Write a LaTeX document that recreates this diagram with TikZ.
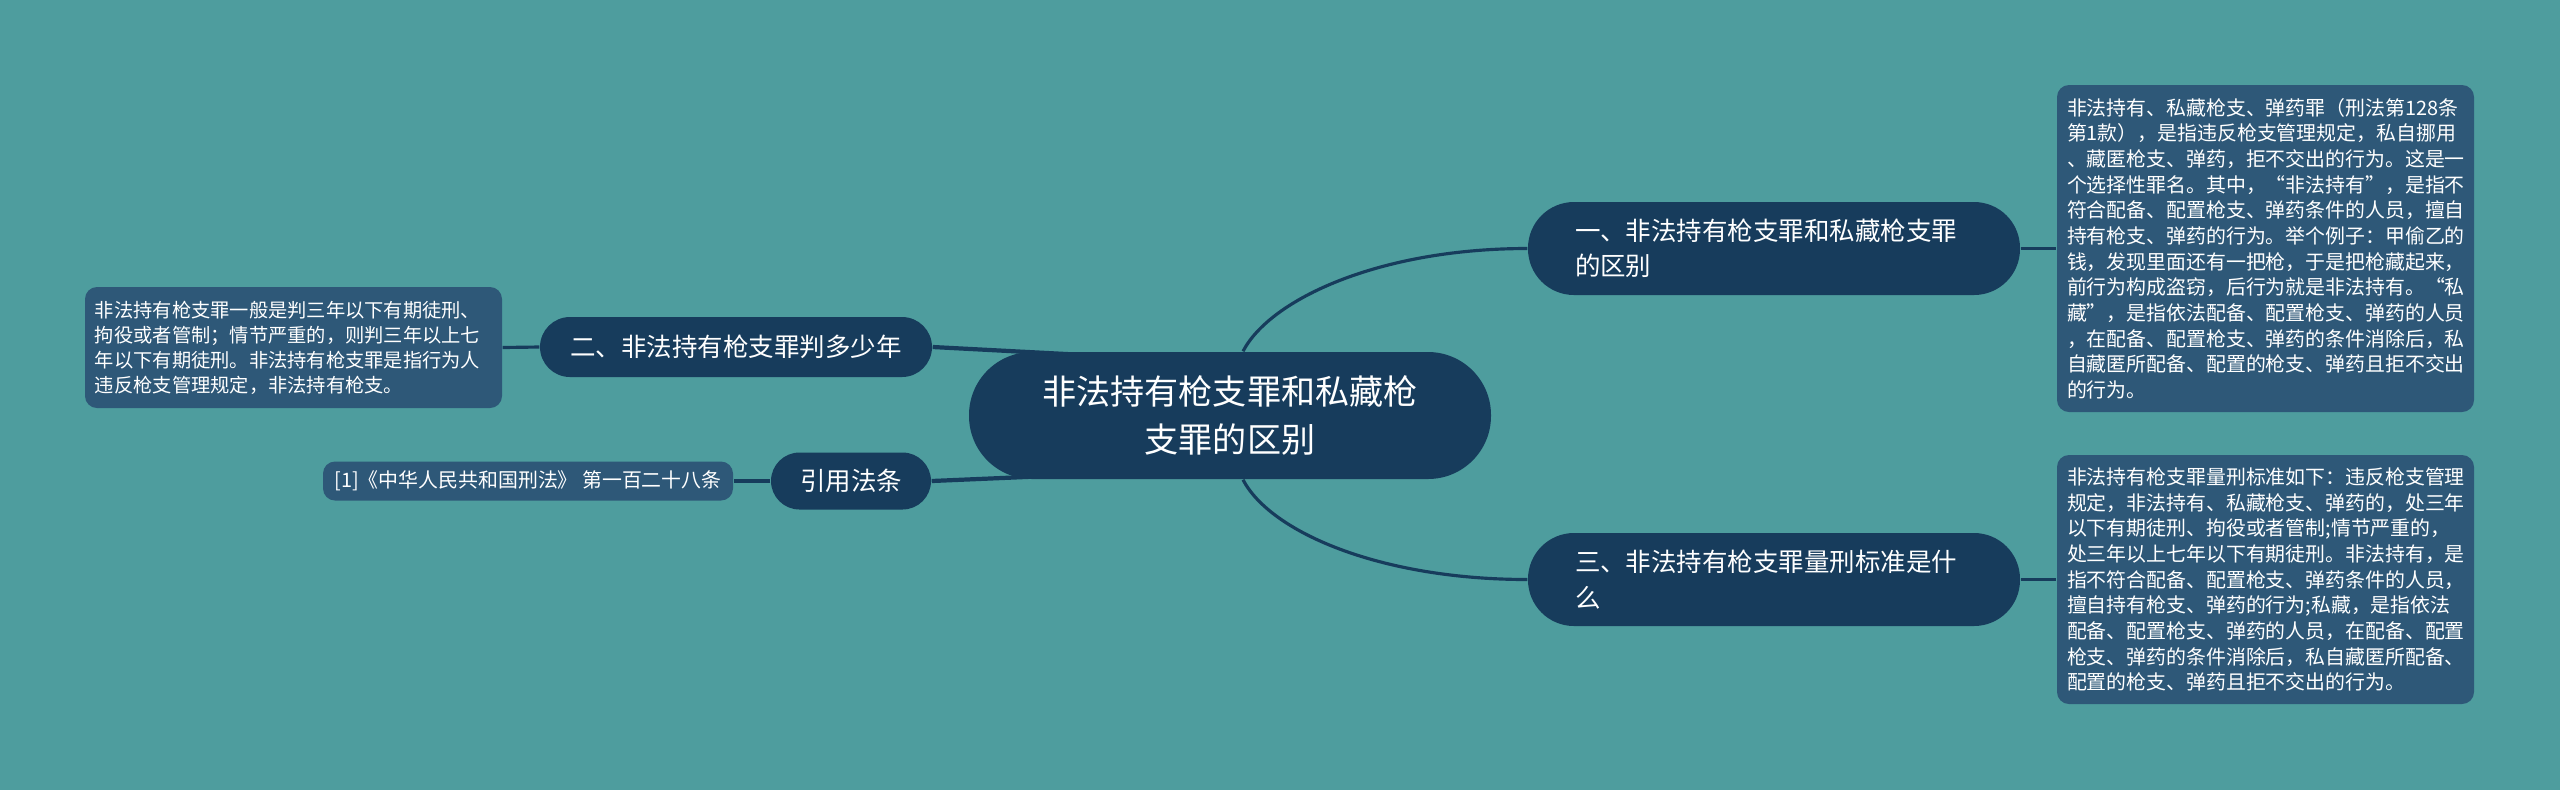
\documentclass[tikz,border=0pt]{standalone}
\usepackage{fontspec}
\setmainfont{Noto Sans CJK SC}
\usepackage{tikz}
\usetikzlibrary{backgrounds}
\definecolor{bgteal}{HTML}{4E9D9E}
\definecolor{topicblue}{HTML}{173C5C}
\definecolor{leafblue}{HTML}{2E5878}
\tikzset{mainnode/.style = {rounded corners=6.3mm, fill=topicblue, text=white, minimum width=52.2mm, minimum height=12.7mm, align=center, inner sep=0pt, font=\fontsize{9.7pt}{13.7pt}\selectfont}}
\tikzset{subnode/.style = {rounded corners=4.6mm, fill=topicblue, text=white, minimum height=9.3mm, inner sep=0pt, font=\fontsize{7.25pt}{10pt}\selectfont}}
\tikzset{leafnode/.style = {rounded corners=1.2mm, fill=leafblue, text=white, inner sep=0pt, align=left, font=\fontsize{5.66pt}{7.3pt}\selectfont}}
\tikzset{link/.style = {draw=topicblue, line width=0.9pt}}

\begin{document}
\begin{tikzpicture}
                    \node[mainnode] (root) at (12.30,-4.155) {非法持有枪支罪和私藏枪\\支罪的区别};
                    \node[subnode, text width=39.8mm, inner xsep=4.7mm, align=left] (b1) at (17.74,-2.485) {一、非法持有枪支罪和私藏枪支罪\\的区别};
                    \node[subnode, text width=39.8mm, inner xsep=4.7mm, align=left] (b3) at (17.74,-5.795) {三、非法持有枪支罪量刑标准是什\\么};
                    \node[subnode, minimum width=39.2mm, minimum height=6mm, rounded corners=3mm] (b2) at (7.36,-3.47) {二、非法持有枪支罪判多少年};
                    \node[subnode, minimum width=16mm, minimum height=5.7mm, rounded corners=2.85mm] (cite) at (8.51,-4.81) {引用法条};
                    \node[leafnode, text width=39.7mm, inner xsep=1mm, minimum height=32.7mm] (t1) at (22.655,-2.485) {非法持有、私藏枪支、弹药罪（刑法第128条\\第1款），是指违反枪支管理规定，私自挪用\\、藏匿枪支、弹药，拒不交出的行为。这是一\\个选择性罪名。其中，“非法持有”，是指不\\符合配备、配置枪支、弹药条件的人员，擅自\\持有枪支、弹药的行为。举个例子：甲偷乙的\\钱，发现里面还有一把枪，于是把枪藏起来，\\前行为构成盗窃，后行为就是非法持有。“私\\藏”，是指依法配备、配置枪支、弹药的人员\\，在配备、配置枪支、弹药的条件消除后，私\\自藏匿所配备、配置的枪支、弹药且拒不交出\\的行为。};
                    \node[leafnode, text width=39.7mm, inner xsep=1mm, minimum height=24.9mm] (t3) at (22.655,-5.795) {非法持有枪支罪量刑标准如下：违反枪支管理\\规定，非法持有、私藏枪支、弹药的，处三年\\以下有期徒刑、拘役或者管制;情节严重的，\\处三年以上七年以下有期徒刑。非法持有，是\\指不符合配备、配置枪支、弹药条件的人员，\\擅自持有枪支、弹药的行为;私藏，是指依法\\配备、配置枪支、弹药的人员，在配备、配置\\枪支、弹药的条件消除后，私自藏匿所配备、\\配置的枪支、弹药且拒不交出的行为。};
                    \node[leafnode, text width=39.7mm, inner xsep=1mm, minimum height=12.1mm, font=\fontsize{5.48pt}{7.1pt}\selectfont] (t2) at (2.935,-3.475) {非法持有枪支罪一般是判三年以下有期徒刑、\\拘役或者管制；情节严重的，则判三年以上七\\年以下有期徒刑。非法持有枪支罪是指行为人\\违反枪支管理规定，非法持有枪支。};
                    \node[leafnode, minimum width=41mm, minimum height=3.9mm, align=center] (tc) at (5.28,-4.81) {[1]《中华人民共和国刑法》 第一百二十八条};
                    \begin{scope}[on background layer]
                    \fill[bgteal] (0,0) rectangle (25.6,-7.9);
                    \draw[link] ([xshift=1.3mm]root.north) .. controls +(0.27,0.52) and +(-1.48,0) .. (b1.west);
                    \draw[link] ([xshift=1.3mm]root.south) .. controls +(0.27,-0.52) and +(-1.48,0) .. (b3.west);
                    \draw[link, line width=1.2pt] (b2.east) -- ([xshift=1.3mm,yshift=-1.2mm]root.north);
                    \draw[link, line width=1.2pt] (cite.east) -- ([xshift=1.3mm,yshift=1.2mm]root.south);
                    \draw[link] (b1.east) -- (t1.west);
                    \draw[link] (b3.east) -- (t3.west);
                    \draw[link] (b2.west) -- (t2.east);
                    \draw[link] (cite.west) -- (tc.east);
                    \end{scope}
                \end{tikzpicture}
\end{document}
